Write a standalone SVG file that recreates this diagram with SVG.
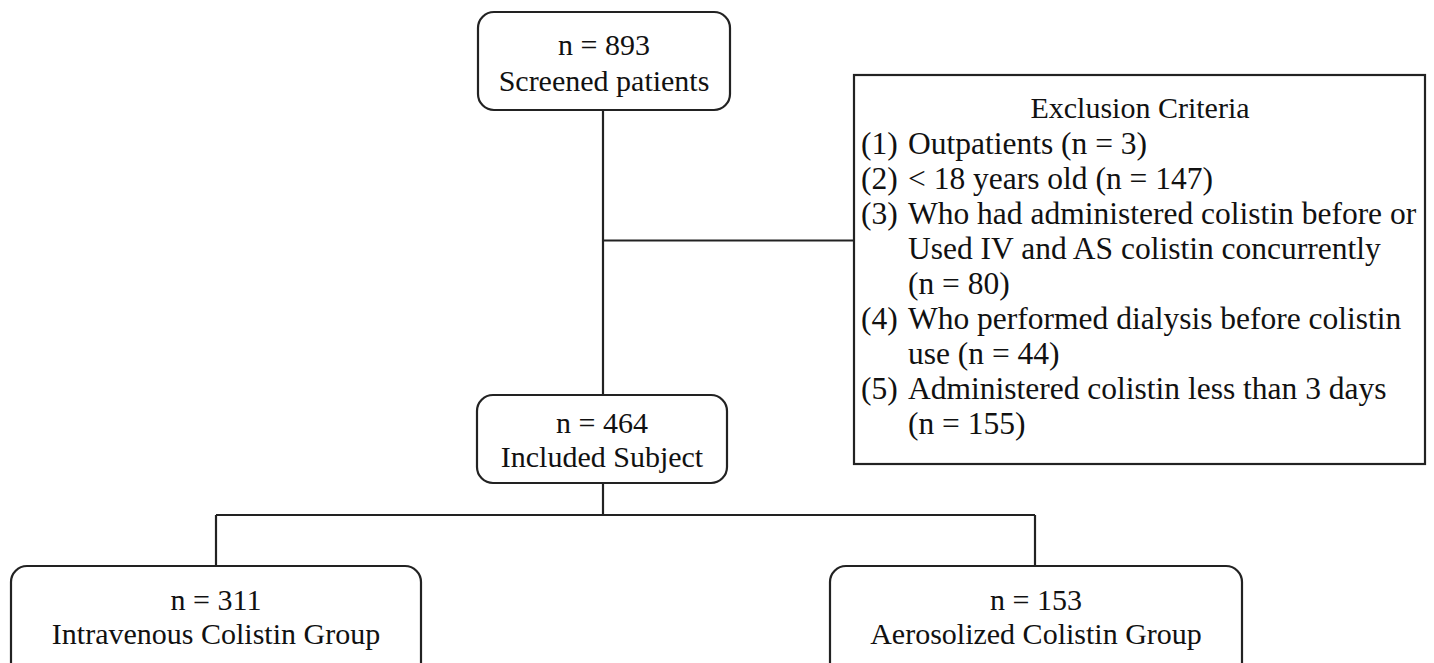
<svg xmlns="http://www.w3.org/2000/svg" width="1434" height="663" viewBox="0 0 1434 663">
<style>
.box{fill:#fff;stroke:#222;stroke-width:2.2}
.ln{fill:none;stroke:#222;stroke-width:2.2}
text{font-family:"Liberation Serif","Times New Roman",serif;font-size:30px;fill:#111}
.c{text-anchor:middle}
.e{font-size:31.5px}
</style>
<rect width="1434" height="663" fill="#fff"/>
<g id="connectors">
<path class="ln" d="M603,110 V395"/>
<path class="ln" d="M603,240.5 H854"/>
<path class="ln" d="M603,483 V515"/>
<path class="ln" d="M216,515 H1035"/>
<path class="ln" d="M216,515 V566"/>
<path class="ln" d="M1035,515 V566"/>
</g>
<g id="screened">
<rect class="box" x="478" y="12" width="252" height="98" rx="16"/>
<text class="c" x="604" y="55">n = 893</text>
<text class="c" x="604" y="91">Screened patients</text>
</g>
<g id="exclusion">
<rect class="box" x="854" y="75" width="571" height="389"/>
<text class="c" x="1140" y="118">Exclusion Criteria</text>
<text class="e" x="861" y="154">(1)</text><text class="e" x="908" y="154">Outpatients (n = 3)</text>
<text class="e" x="861" y="189">(2)</text><text class="e" x="908" y="189">&lt; 18 years old (n = 147)</text>
<text class="e" x="861" y="224">(3)</text><text class="e" x="908" y="224">Who had administered colistin before or</text>
<text class="e" x="908" y="259">Used IV and AS colistin concurrently</text>
<text class="e" x="908" y="294">(n = 80)</text>
<text class="e" x="861" y="329">(4)</text><text class="e" x="908" y="329">Who performed dialysis before colistin</text>
<text class="e" x="908" y="364">use (n = 44)</text>
<text class="e" x="861" y="399">(5)</text><text class="e" x="908" y="399">Administered colistin less than 3 days</text>
<text class="e" x="908" y="434">(n = 155)</text>
</g>
<g id="included">
<rect class="box" x="477" y="395" width="250" height="88" rx="16"/>
<text class="c" x="602" y="433">n = 464</text>
<text class="c" x="602" y="467">Included Subject</text>
</g>
<g id="intravenous">
<rect class="box" x="11" y="566" width="410" height="120" rx="16"/>
<text class="c" x="216" y="610">n = 311</text>
<text class="c" x="216" y="644">Intravenous Colistin Group</text>
</g>
<g id="aerosolized">
<rect class="box" x="830" y="566" width="412" height="120" rx="16"/>
<text class="c" x="1036" y="610">n = 153</text>
<text class="c" x="1036" y="644">Aerosolized Colistin Group</text>
</g>
</svg>
